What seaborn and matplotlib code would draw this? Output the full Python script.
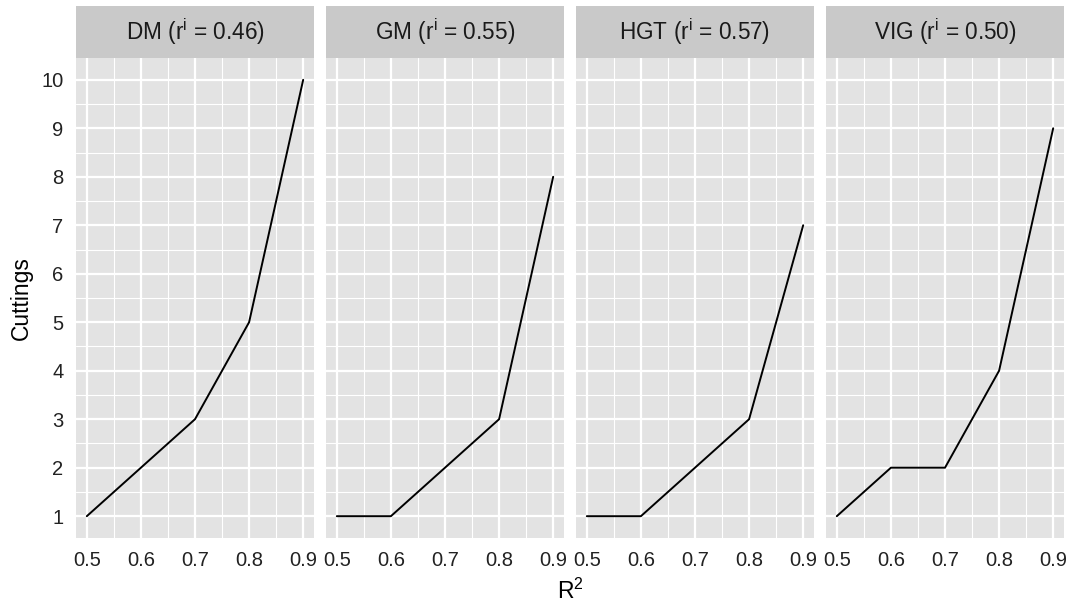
import matplotlib
matplotlib.use("Agg")
import matplotlib.pyplot as plt
import seaborn as sns
import pandas as pd
from matplotlib.patches import Rectangle
from matplotlib.ticker import MultipleLocator

sns.set_style("white")
plt.rcParams['font.family'] = ['Liberation Sans', 'DejaVu Sans']
plt.rcParams['mathtext.fontset'] = 'custom'
plt.rcParams['mathtext.rm'] = 'Liberation Sans'
plt.rcParams['mathtext.it'] = 'Liberation Sans'

r2 = [0.5, 0.6, 0.7, 0.8, 0.9]
traits = ["DM", "GM", "HGT", "VIG"]
ri = ["0.46", "0.55", "0.57", "0.50"]
dm = [1, 2, 3, 5, 10]
gm = [1, 1, 2, 3, 8]
hgt = [1, 1, 2, 3, 7]
vig = [1, 2, 2, 4, 9]
series = [dm, gm, hgt, vig]
xticks = [0.5, 0.6, 0.7, 0.8, 0.9]
yticks = list(range(1, 11))

W, H = 1070, 605
fig = plt.figure(figsize=(W / 100, H / 100), dpi=100)

panel_bg = '#E3E3E3'
strip_bg = '#C9C9C9'
tick_col = '#222222'
lab_col = '#222222'

lefts = [76, 326, 576, 826]
pw = 238
top, bottom = 58, 538
strip_h = 52

for i, (name, r, vals) in enumerate(zip(traits, ri, series)):
    ax = fig.add_axes([lefts[i] / W, (H - bottom) / H, pw / W, (bottom - top) / H])
    ax.set_facecolor(panel_bg)
    df = pd.DataFrame({"R2": r2, "Cuttings": vals})
    ax.xaxis.set_minor_locator(MultipleLocator(0.05))
    ax.yaxis.set_minor_locator(MultipleLocator(0.5))
    ax.grid(which='major', color='white', linewidth=1.6)
    ax.grid(which='minor', color='white', linewidth=0.8)
    ax.set_axisbelow(True)
    sns.lineplot(data=df, x="R2", y="Cuttings", ax=ax, color='black', linewidth=1.4)
    ax.set_xlim(0.48, 0.92)
    ax.set_ylim(0.55, 10.45)
    ax.set_xticks(xticks)
    ax.set_xticklabels([f"{t:.1f}" for t in xticks])
    ax.set_yticks(yticks)
    for s in ax.spines.values():
        s.set_visible(False)
    ax.tick_params(which='major', length=5, width=1.3, color=tick_col,
                   labelsize=14.5, labelcolor=lab_col, pad=4)
    ax.tick_params(which='minor', length=0)
    ax.set_xlabel("")
    ax.set_ylabel("")
    if i == 0:
        ax.set_yticklabels([str(t) for t in yticks])
    else:
        ax.tick_params(axis='y', which='both', left=False, labelleft=False)
    rect = Rectangle((0, 1), 1, strip_h / (bottom - top), transform=ax.transAxes,
                     facecolor=strip_bg, edgecolor='none', clip_on=False)
    ax.add_patch(rect)
    ax.text(0.5, 1 + strip_h / (bottom - top) / 2,
            name + r" (r$^{\mathregular{i}}$ = " + r + ")",
            transform=ax.transAxes, ha='center', va='center',
            fontsize=16.3, color='#1A1A1A')

fig.text((lefts[0] + lefts[3] + pw) / 2 / W, 1 / H, r"R$^{\mathregular{2}}$",
         ha='center', va='bottom', fontsize=16.5, color='black')
fig.text(10 / W, (H - (top + bottom) / 2) / H, "Cuttings", rotation=90,
         ha='left', va='center', fontsize=16.5, color='black')

fig.savefig("out.png", dpi=100)
